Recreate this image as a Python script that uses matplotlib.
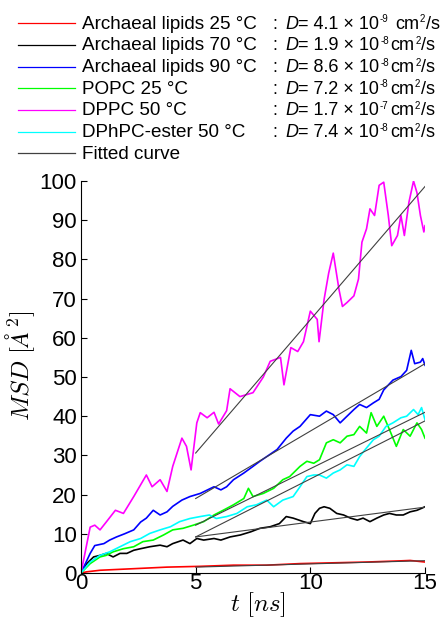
import numpy as np
import matplotlib.pyplot as plt
from matplotlib.lines import Line2D

plt.rcParams['font.family'] = ['Liberation Sans', 'DejaVu Sans']

# legend texts
labels = ['Archaeal lipids 25 \u00b0C', 'Archaeal lipids 70 \u00b0C', 'Archaeal lipids 90 \u00b0C',
          'POPC 25 \u00b0C', 'DPPC 50 \u00b0C', 'DPhPC-ester 50 \u00b0C']
d_mant = ['4.1', '1.9', '8.6', '7.2', '1.7', '7.4']
d_exp = [-9, -8, -8, -8, -7, -8]
colors = ['#ff0000', '#000000', '#0000ff', '#00ff00', '#ff00ff', '#00ffff']
# intercept of the fitted lines, fit drawn from 5 to 15 ns
fit_b = [0.68, 5.4, 1.8, -2.2, -3.4, -5.6]

# MSD curves
t_red = [0, 0.25, 0.83, 2.3, 3.75, 5.2, 6.65, 8.1, 9.55, 11, 12.45, 13.95, 14.35, 15]
m_red = [0, 0.3, 0.7, 1.1, 1.5, 1.7, 2.0, 2.0, 2.4, 2.6, 2.8, 3.1, 3.2, 2.8]

t_black = [0, 0.25, 0.55, 0.83, 1.1, 1.4, 1.7, 2.0, 2.3, 2.6, 3.0, 3.45, 3.75, 4.0, 4.45, 4.75,
           5.05, 5.35, 5.8, 6.1, 6.5, 6.95, 7.4, 7.8, 8.25, 8.65, 8.95, 9.25, 9.7, 10.0, 10.2,
           10.4, 10.6, 10.85, 11.15, 11.45, 11.75, 12.05, 12.3, 12.6, 12.9, 13.2, 13.45, 13.75,
           14.05, 14.35, 14.65, 14.85, 15]
m_black = [0, 2.4, 4.1, 4.5, 5.0, 4.1, 5.0, 5.0, 5.8, 6.2, 6.7, 7.1, 6.7, 7.5, 8.4, 7.5,
           8.8, 8.4, 8.8, 8.4, 9.2, 9.7, 10.5, 11.4, 11.8, 12.6, 14.4, 14.0, 13.1, 12.6, 15.2,
           16.5, 16.9, 16.5, 15.2, 14.8, 14.0, 13.5, 14.0, 13.1, 14.0, 14.8, 15.2, 14.8,
           14.8, 15.6, 16.0, 16.5, 16.9]

t_blue = [0, 0.4, 0.6, 1.0, 1.25, 1.55, 1.9, 2.3, 2.6, 2.85, 3.15, 3.45, 3.75, 4.0, 4.4, 4.75,
          5.2, 5.8, 6.1, 6.35, 6.65, 7.1, 7.5, 7.8, 8.1, 8.55, 8.95, 9.25, 9.55, 10.0, 10.4,
          10.7, 11.0, 11.3, 11.6, 11.9, 12.15, 12.45, 12.75, 13.0, 13.2, 13.6, 13.95, 14.2,
          14.4, 14.55, 14.8, 14.9, 15]
m_blue = [0, 5.0, 7.0, 7.5, 8.4, 9.2, 10.0, 11.0, 13.0, 14.0, 16.0, 14.8, 15.6, 17.0, 18.6, 19.5,
          20.3, 22.0, 21.2, 22.0, 23.8, 25.5, 27.2, 28.5, 29.7, 31.5, 34.4, 36.2, 37.4, 40.4, 40.0,
          41.3, 40.4, 38.3, 40.0, 41.7, 43.0, 42.2, 43.4, 44.3, 46.7, 49.2, 50.1, 51.7,
          56.8, 53.4, 53.8, 54.7, 53.0]

t_green = [0, 0.4, 0.83, 1.1, 1.4, 1.85, 2.3, 2.7, 3.15, 3.6, 4.0, 4.45, 4.9, 5.35, 5.8, 6.2,
           6.65, 7.1, 7.3, 7.5, 7.95, 8.4, 8.8, 9.1, 9.55, 9.85, 10.15, 10.4, 10.7, 11.0, 11.3,
           11.6, 11.9, 12.15, 12.45, 12.65, 12.9, 13.2, 13.45, 13.75, 14.05, 14.35, 14.65,
           14.85, 15]
m_green = [0, 2.4, 4.1, 4.5, 5.4, 6.2, 6.7, 8.0, 8.4, 9.7, 11.0, 11.4, 12.2, 13.1, 14.8, 16.0,
           17.4, 19.0, 21.6, 19.5, 20.3, 21.6, 23.8, 24.6, 27.2, 28.5, 28.0, 28.9, 33.2, 34.0, 33.2,
           34.9, 35.3, 37.4, 35.7, 40.9, 37.4, 40.0, 36.6, 32.3, 36.6, 34.9, 38.3,
           36.6, 34.4]

t_mag = [0, 0.4, 0.6, 0.83, 1.1, 1.5, 1.85, 2.3, 2.85, 3.1, 3.45, 3.75, 4.0, 4.4, 4.6, 4.8,
         5.05, 5.2, 5.5, 5.8, 6.0, 6.35, 6.5, 6.93, 7.5, 7.95, 8.25, 8.7, 8.85, 9.15, 9.45, 9.7,
         10.0, 10.3, 10.38, 10.6, 10.8, 11.0, 11.25, 11.4, 11.6, 11.9, 12.1, 12.25, 12.45,
         12.6, 12.8, 13.0, 13.2, 13.4, 13.55, 13.8, 13.95, 14.1, 14.3, 14.5, 14.65, 14.8,
         14.95, 15]
m_mag = [0, 11.7, 12.2, 11.0, 13.0, 16.0, 15.2, 19.5, 25.0, 22.0, 23.8, 20.8, 27.2, 34.4, 32.3, 26.3,
         38.3, 40.9, 39.6, 41.0, 38.0, 41.4, 47.0, 45.0, 46.0, 50.0, 54.0, 55.0, 48.0, 57.5, 56.5, 59.0,
         66.8, 64.7, 59.0, 69.8, 76.5, 81.6, 72.3, 68.0, 69.0, 70.7, 75.0, 84.4, 87.8,
         92.9, 91.2, 98.9, 99.7, 91.2, 83.5, 86.1, 91.2, 86.1, 94.6, 100.0, 97.0, 91.2,
         87.0, 88.6]

t_cyan = [0, 0.4, 0.83, 1.25, 1.7, 2.15, 2.6, 3.0, 3.45, 3.9, 4.3, 4.75, 5.2, 5.6, 5.9, 6.35,
          6.8, 7.25, 7.65, 8.1, 8.4, 8.8, 9.25, 9.55, 9.85, 10.15, 10.4, 10.7, 11.0, 11.3, 11.6,
          11.9, 12.15, 12.45, 12.75, 13.0, 13.3, 13.6, 13.95, 14.2, 14.5, 14.7, 14.85, 15]
m_cyan = [0, 2.8, 4.5, 5.4, 6.7, 8.0, 8.8, 10.1, 11.0, 11.8, 13.1, 13.9, 14.4, 14.8, 13.9, 14.4,
          15.2, 16.9, 17.4, 18.6, 16.9, 18.6, 19.5, 22.0, 24.6, 25.0, 25.0, 24.2, 25.5, 26.3, 27.6,
          27.2, 29.7, 31.9, 34.0, 34.9, 37.4, 38.3, 39.6, 40.0, 41.7, 40.4, 42.2, 39.1]

series_t = [t_red, t_black, t_blue, t_green, t_mag, t_cyan]
series_m = [m_red, m_black, m_blue, m_green, m_mag, m_cyan]

W, H = 442, 624
fig = plt.figure(figsize=(W / 100, H / 100), dpi=100)
ax = fig.add_axes([81 / W, 1 - 573 / H, 344 / W, 392 / H])

for t, m, c in zip(series_t, series_m, colors):
    ax.plot(t, m, color=c, lw=1.2)

tf = np.array([5.0, 15.0])
for D, e, b in zip(d_mant, d_exp, fit_b):
    slope = 4 * float(D) * 10.0 ** e * 1e7   # cm^2/s -> A^2/ns
    ax.plot(tf, slope * tf + b, color='#404040', lw=0.8)

ax.set_xlim(0, 15)
ax.set_ylim(0, 100)
ax.set_xticks([0, 5, 10, 15])
ax.set_yticks(np.arange(0, 101, 10))
ax.spines['top'].set_visible(False)
ax.spines['right'].set_visible(False)
ax.tick_params(direction='in', length=4, width=0.8, labelsize=16)
ax.tick_params(axis='x', pad=0)
ax.tick_params(axis='y', pad=3)

ax.set_xlabel(r'$t\ [ns]$', fontsize=18, math_fontfamily='cm')
ax.set_ylabel(r'$MSD\ [\AA^2]$', fontsize=18, math_fontfamily='cm')
ax.xaxis.set_label_coords((258 - 81) / 344, -0.045)
ax.yaxis.set_label_coords((37 - 81) / 344, (573 - 366) / 392)

# legend drawn by hand above the axes; pieces placed one after another in pixels
r = fig.canvas.get_renderer()


def put(x, y, s, size, **kw):
    t = fig.text(x / W, 1 - y / H, s, fontsize=size, va='baseline', ha='left', **kw)
    return x + t.get_window_extent(r).width


handles = colors + ['#404040']
names = labels + ['Fitted curve']
for i, (c, name) in enumerate(zip(handles, names)):
    yc = 23.3 + i * 21.67
    yb = yc + 5.4
    fig.add_artist(Line2D([18 / W, 75 / W], [1 - yc / H, 1 - yc / H], color=c, lw=0.9))
    put(82, yb, name, 13.6)
    if i < len(d_mant):
        put(272, yb, ':', 13)
        x = put(285, yb, 'D', 13, style='italic')
        x = put(x + 0.5, yb, '= %s \u00d7 10' % d_mant[i], 13)
        x = put(x + 0.5, yb - 6.5, str(d_exp[i]), 7)
        x = put(x + (6 if i == 0 else 1.5), yb, 'cm', 13)
        x = put(x + 1, yb - 6.5, '2', 7)
        put(x + 0.5, yb, '/s', 13)

fig.savefig('out.png', dpi=100)
